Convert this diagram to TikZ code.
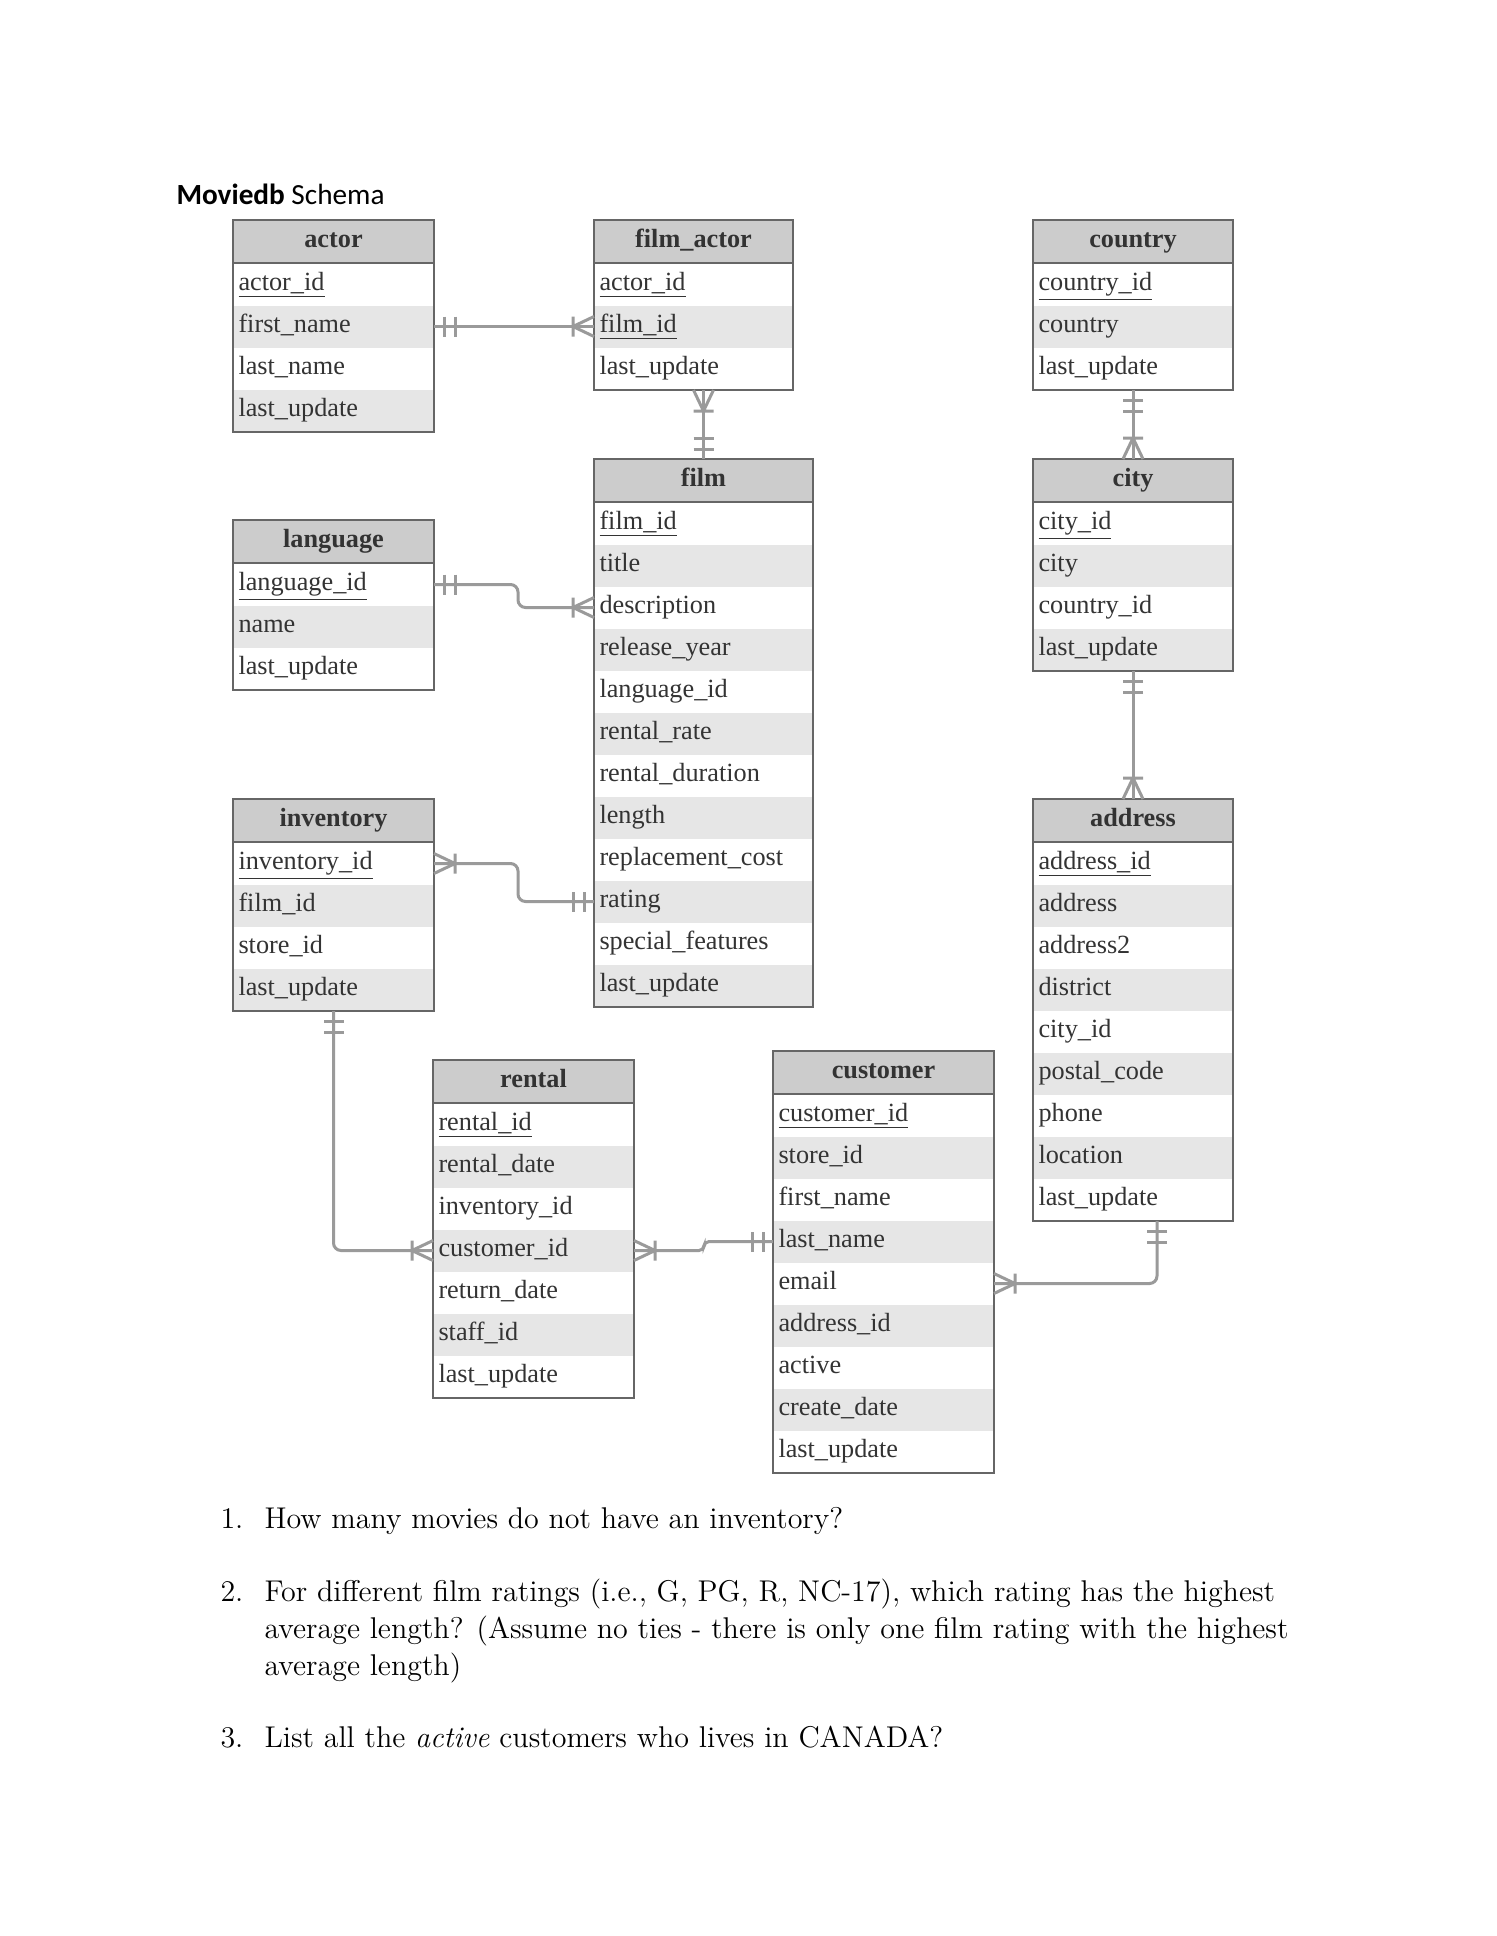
\documentclass[tikz,border=0pt]{standalone}
\usepackage{fontspec}
\usepackage{tikz}
\usetikzlibrary{positioning, calc}
\newfontfamily\tblfont{Liberation Serif}
\newfontfamily\titlefont{Carlito}
\definecolor{cLINE}{HTML}{9A9A9A}
\definecolor{cBORDER}{HTML}{666666}
\definecolor{cHEAD}{HTML}{CCCCCC}
\definecolor{cROW}{HTML}{E6E6E6}
\definecolor{cTEXT}{HTML}{333333}
\tikzset{
  tblhead/.style={
    anchor=north west,
    fill=cHEAD,
    inner sep=0pt,
    minimum height=16.8pt,
    text=cTEXT,
    font=\tblfont\fontsize{10.5}{12}\selectfont\bfseries,
    text height=7pt, text depth=2.6pt
  },
  tblrow/.style={
    anchor=north west,
    inner sep=0pt,
    minimum height=16.8pt
  },
  tbltext/.style={
    anchor=base west,
    inner sep=0pt,
    text=cTEXT,
    font=\tblfont\fontsize{10.5}{12}\selectfont
  },
  tblborder/.style={draw=cBORDER, line width=0.8pt},
  rel/.style={draw=cLINE, line width=1.2pt, rounded corners=3pt},
  relmark/.style={draw=cLINE, line width=1.2pt},
  onlyone/.pic={\draw[relmark] (10,-10) -- (10,10) (21,-10) -- (21,10);},
  onemany/.pic={\draw[relmark] (0,-10) -- (21,0) -- (0,10) (21,-10) -- (21,10);},
  qtext/.style={anchor=base west, inner sep=0pt, align=left,
    font=\fontsize{12}{14.8}\selectfont}
}
\newcommand{\pk}[1]{\underline{#1}}
% table: name, top left, width, title, fields
\newcommand{\erdtable}[5]{%
  \node[tblhead, minimum width={#3*0.4pt}] (#1) at #2 {#4};
  \foreach \fld [count=\i] in {#5} {
    \pgfmathtruncatemacro\isodd{mod(\i,2)}
    \ifnum\isodd=1 \def\rowcol{white}\else\def\rowcol{cROW}\fi
    \node[tblrow, fill=\rowcol, minimum width={#3*0.4pt}] (#1-\i) at ($(#1.south west)+(0,{(\i-1)*42})$) {};
    \node[tbltext] (#1-\i-t) at ($(#1-\i.north west)+(5,27)$) {\fld};
    \xdef\tbllast{\i}
  }
  \draw[tblborder] (#1.north west) rectangle (#1-\tbllast.south east);
  \draw[tblborder] (#1.south west) -- (#1.south east);
}

\begin{document}
\begin{tikzpicture}[x=0.4pt, y=-0.4pt]
  \useasboundingbox[fill=white] (0,0) rectangle (1496,1936);

  \node[anchor=base west, inner sep=0pt, font=\titlefont\fontsize{11.7}{14}\selectfont] (title) at (176,204) {\textbf{Moviedb} Schema};

  \erdtable{actor}{(233,220)}{200}{actor}{\pk{actor\_id}, first\_name, last\_name, last\_update}
  \erdtable{filmactor}{(594,220)}{198}{film\_actor}{\pk{actor\_id}, \pk{film\_id}, last\_update}
  \erdtable{country}{(1033,220)}{199}{country}{\pk{country\_id}, country, last\_update}
  \erdtable{film}{(594,459)}{218}{film}{\pk{film\_id}, title, description, release\_year, language\_id, rental\_rate, rental\_duration, length, replacement\_cost, rating, special\_features, last\_update}
  \erdtable{city}{(1033,459)}{199}{city}{\pk{city\_id}, city, country\_id, last\_update}
  \erdtable{language}{(233,520)}{200}{language}{\pk{language\_id}, name, last\_update}
  \erdtable{inventory}{(233,799)}{200}{inventory}{\pk{inventory\_id}, film\_id, store\_id, last\_update}
  \erdtable{address}{(1033,799)}{199}{address}{\pk{address\_id}, address, address2, district, city\_id, postal\_code, phone, location, last\_update}
  \erdtable{rental}{(433,1060)}{200}{rental}{\pk{rental\_id}, rental\_date, inventory\_id, customer\_id, return\_date, staff\_id, last\_update}
  \erdtable{customer}{(773,1051)}{220}{customer}{\pk{customer\_id}, store\_id, first\_name, last\_name, email, address\_id, active, create\_date, last\_update}

  % relationships
  \draw[rel] (actor-2.east) -- (filmactor-2.west);
  \pic at (actor-2.east) {onlyone};
  \pic[rotate=180] at (filmactor-2.west) {onemany};

  \coordinate (fabottom) at (film.north |- filmactor-3.south);
  \draw[rel] (fabottom) -- (film.north);
  \pic[rotate=-90] at (fabottom) {onemany};
  \pic[rotate=90] at (film.north) {onlyone};

  \draw[rel] (language-1.east) -- ++(84,0) |- (film-3.west);
  \pic at (language-1.east) {onlyone};
  \pic[rotate=180] at (film-3.west) {onemany};

  \draw[rel] (inventory-1.east) -- ++(84,0) |- (film-10.west);
  \pic at (inventory-1.east) {onemany};
  \pic[rotate=180] at (film-10.west) {onlyone};

  \draw[rel] (inventory-4.south) |- (rental-4.west);
  \pic[rotate=-90] at (inventory-4.south) {onlyone};
  \pic[rotate=180] at (rental-4.west) {onemany};

  \draw[rel, rounded corners=2pt] (rental-4.east) -- ++(70,0) |- (customer-4.west);
  \pic at (rental-4.east) {onemany};
  \pic[rotate=180] at (customer-4.west) {onlyone};

  \draw[rel] (country-3.south) -- (city.north);
  \pic[rotate=-90] at (country-3.south) {onlyone};
  \pic[rotate=90] at (city.north) {onemany};

  \draw[rel] (city-4.south) -- (address.north);
  \pic[rotate=-90] at (city-4.south) {onlyone};
  \pic[rotate=90] at (address.north) {onemany};

  \coordinate (addrdrop) at ($(address-9.south)+(24,0)$);
  \draw[rel] (addrdrop) |- (customer-5.east);
  \pic[rotate=-90] at (addrdrop) {onlyone};
  \pic at (customer-5.east) {onemany};

  % questions
  \node[qtext] (q1num) at (220,1528) {1.};
  \node[qtext] (q1) at (264,1528) {How many movies do not have an inventory?};
  \node[qtext] (q2num) at (220,1601) {2.};
  \node[qtext] (q2) at (264,1675) {For different film ratings (i.e., G, PG, R, NC-17), which rating has the highest\\average length? (Assume no ties - there is only one film rating with the highest\\average length)};
  \node[qtext] (q3num) at (220,1747) {3.};
  \node[qtext] (q3) at (264,1747) {List all the \textit{active} customers who lives in CANADA?};
\end{tikzpicture}
\end{document}
